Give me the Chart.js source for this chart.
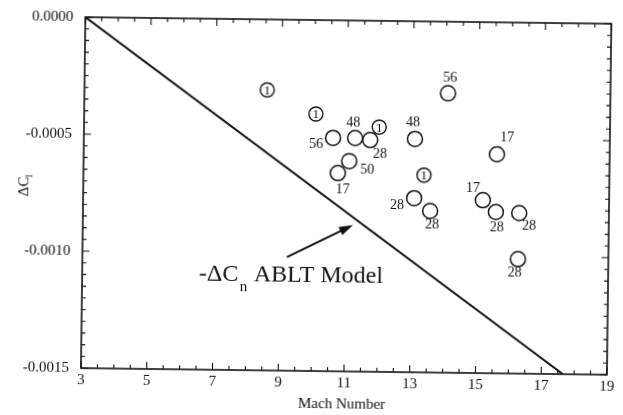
<!DOCTYPE html>
<html>
<head>
<meta charset="utf-8">
<script src="https://cdn.jsdelivr.net/npm/chart.js@4.4.1/dist/chart.umd.min.js"></script>
<style>
  body { margin: 0; background: #fff; }
  #chart { transform: rotate(0.72deg); transform-origin: 50% 50%; }
</style>
</head>
<body>
<canvas id="chart" width="623" height="415"></canvas>
<script>
// circled "1" runs
const machCircled = [8.56, 10.05, 11.98, 13.36]
const dclCircled = [-0.000301, -0.000402, -0.000454, -0.000657]
const circledLabels = ['1', '1', '1', '1']

// numbered runs
const machRuns = [14.06, 10.58, 11.25, 11.71, 13.07, 15.57, 11.08, 10.74, 13.07, 13.56, 15.16, 15.56, 16.27, 16.25]
const dclRuns = [-0.000306, -0.000503, -0.000502, -0.000510, -0.000503, -0.000564, -0.000601, -0.000653, -0.000756, -0.000810, -0.000761, -0.000811, -0.000814, -0.001011]
const runLabels = ['56', '56', '48', '28', '48', '17', '50', '17', '28', '28', '17', '28', '28', '28']

// -dCn ABLT model line
const modelMach = [3, 17.66]
const modelDcl = [0, -0.0015]

// arrow of the annotation (tail, head)
const arrowMach = [9.22, 11.22]
const arrowDcl = [-0.001014, -0.000874]

const xTicks = [3, 5, 7, 9, 11, 13, 15, 17, 19]
const yTicks = [0, -0.0005, -0.001, -0.0015]

// label offsets in px from the circle centre (style only)
const runLabelOffsets = [[2,-15],[-17,7],[-2,-15],[10,14],[-2,-16],[10,-17],[18,9],[5,17],[-17,7],[2,14],[-10,-12],[1,16],[10,13],[-3,14]]

const serif = '"Liberation Serif", serif'
const ink = '#111'

const toPts = (xs, ys) => xs.map((x, i) => ({x: x, y: ys[i]}))

const decor = {
  id: 'decor',
  afterDraw(chart) {
    const ctx = chart.ctx
    const a = chart.chartArea
    const xs = chart.scales.x
    const ys = chart.scales.y
    ctx.save()
    ctx.strokeStyle = ink
    ctx.fillStyle = ink

    // frame
    ctx.lineWidth = 1.6
    ctx.strokeRect(a.left, a.top, a.right - a.left, a.bottom - a.top)

    // inward ticks
    ctx.lineWidth = 1.1
    ctx.beginPath()
    for (let i = 0; i <= 32; i++) {
      const v = 3 + i * 0.5
      const px = xs.getPixelForValue(v)
      const len = (i % 4 === 0) ? 7 : 4
      ctx.moveTo(px, a.bottom); ctx.lineTo(px, a.bottom - len)
      ctx.moveTo(px, a.top); ctx.lineTo(px, a.top + len)
    }
    for (let i = 0; i <= 30; i++) {
      const v = -i * 0.00005
      const py = ys.getPixelForValue(v)
      const len = (i % 10 === 0) ? 7 : 4
      ctx.moveTo(a.left, py); ctx.lineTo(a.left + len, py)
      ctx.moveTo(a.right, py); ctx.lineTo(a.right - len, py)
    }
    ctx.stroke()

    // circled 1s
    ctx.textAlign = 'center'
    ctx.textBaseline = 'middle'
    ctx.font = '13px ' + serif
    chart.getDatasetMeta(1).data.forEach((p, i) => {
      ctx.fillText(circledLabels[i], p.x, p.y + 1)
    })
    // run numbers
    ctx.font = '14px ' + serif
    chart.getDatasetMeta(2).data.forEach((p, i) => {
      const o = runLabelOffsets[i]
      ctx.fillText(runLabels[i], p.x + o[0], p.y + o[1])
    })

    // arrow
    const x0 = xs.getPixelForValue(arrowMach[0]), y0 = ys.getPixelForValue(arrowDcl[0])
    const x1 = xs.getPixelForValue(arrowMach[1]), y1 = ys.getPixelForValue(arrowDcl[1])
    const ang = Math.atan2(y1 - y0, x1 - x0)
    ctx.lineWidth = 2
    ctx.beginPath()
    ctx.moveTo(x0, y0)
    ctx.lineTo(x1 - 8 * Math.cos(ang), y1 - 8 * Math.sin(ang))
    ctx.stroke()
    ctx.beginPath()
    ctx.moveTo(x1, y1)
    ctx.lineTo(x1 - 14 * Math.cos(ang) + 4.5 * Math.sin(ang), y1 - 14 * Math.sin(ang) - 4.5 * Math.cos(ang))
    ctx.lineTo(x1 - 14 * Math.cos(ang) - 4.5 * Math.sin(ang), y1 - 14 * Math.sin(ang) + 4.5 * Math.cos(ang))
    ctx.closePath()
    ctx.fill()

    // annotation text
    const tx = xs.getPixelForValue(6.55), ty = ys.getPixelForValue(-0.001118)
    ctx.textAlign = 'left'
    ctx.textBaseline = 'alphabetic'
    ctx.font = '24px ' + serif
    ctx.fillText('-\u0394C', tx, ty)
    ctx.fillText('ABLT Model', tx + 55, ty)
    ctx.font = '15px ' + serif
    ctx.fillText('n', tx + 41, ty + 10)

    // axis titles
    ctx.font = '15px ' + serif
    ctx.textAlign = 'center'
    ctx.fillText('Mach Number', (a.left + a.right) / 2 - 2, 408)
    ctx.translate(28, 190)
    ctx.rotate(-Math.PI / 2)
    ctx.textAlign = 'left'
    ctx.fillText('\u0394C', -10, 0)
    ctx.font = '10px ' + serif
    ctx.fillText('l', 9, 4)
    ctx.restore()
  }
}

new Chart(document.getElementById('chart'), {
  type: 'scatter',
  data: {
    datasets: [
      {
        type: 'line',
        data: toPts(modelMach, modelDcl),
        borderColor: ink,
        borderWidth: 2,
        pointRadius: 0,
        fill: false
      },
      {
        data: toPts(machCircled, dclCircled),
        pointRadius: 7,
        pointBorderWidth: 1.4,
        pointBorderColor: ink,
        pointBackgroundColor: 'rgba(0,0,0,0)'
      },
      {
        data: toPts(machRuns, dclRuns),
        pointRadius: 7.5,
        pointBorderWidth: 1.5,
        pointBorderColor: ink,
        pointBackgroundColor: 'rgba(0,0,0,0)'
      }
    ]
  },
  options: {
    responsive: false,
    animation: false,
    layout: { padding: { top: 20, right: 14, left: 0, bottom: 0 } },
    plugins: { legend: { display: false }, tooltip: { enabled: false } },
    scales: {
      x: {
        type: 'linear',
        min: 3,
        max: 19,
        afterBuildTicks: s => { s.ticks = xTicks.map(v => ({value: v})) },
        afterFit: s => { s.height = 44 },
        grid: { display: false },
        border: { display: false },
        ticks: { color: ink, font: { family: serif, size: 15 }, padding: -5, maxRotation: 0 }
      },
      y: {
        type: 'linear',
        min: -0.0015,
        max: 0,
        afterBuildTicks: s => { s.ticks = yTicks.map(v => ({value: v})) },
        afterFit: s => { s.width = 83 },
        grid: { display: false },
        border: { display: false },
        ticks: { color: ink, font: { family: serif, size: 15 }, padding: 4, callback: v => v.toFixed(4) }
      }
    }
  },
  plugins: [decor]
})
</script>
</body>
</html>
